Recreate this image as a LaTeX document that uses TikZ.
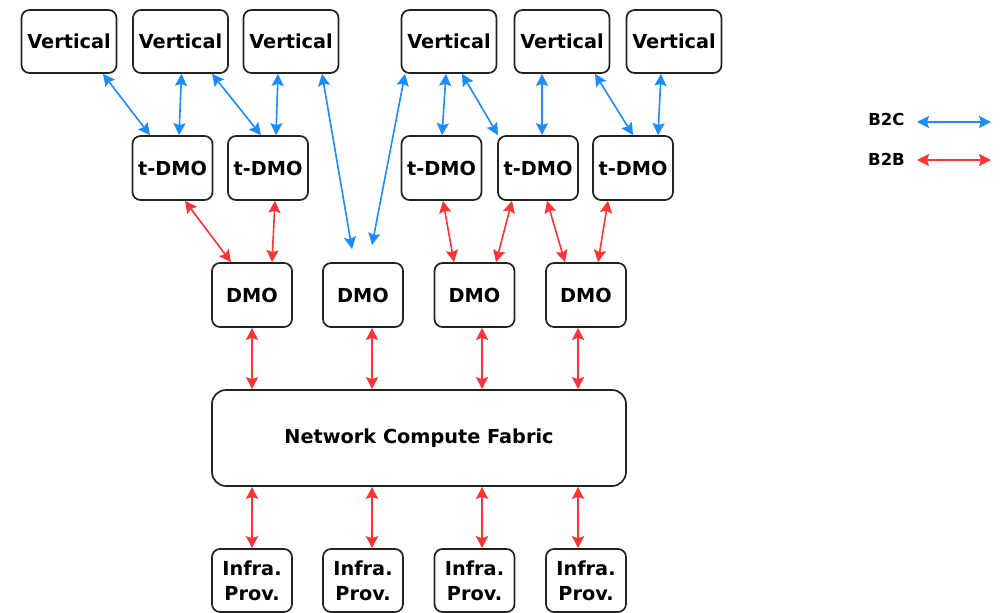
\documentclass[tikz,border=0pt]{standalone}
\usepackage{fontspec}
\setmainfont{DejaVu Sans}
\usetikzlibrary{arrows.meta}
\definecolor{bluearr}{HTML}{1A8CFF}
\definecolor{redarr}{HTML}{FF3333}
\definecolor{boxline}{HTML}{222222}
\begin{document}
\begin{tikzpicture}[x=1pt,y=-1pt,
  box/.style={draw=boxline,line width=1.7pt,rounded corners=8pt,fill=white,
    inner sep=0pt,align=center,font=\bfseries\fontsize{19.3}{25}\selectfont},
  vbox/.style={box,minimum width=95pt,minimum height=63pt},
  sbox/.style={box,minimum width=80pt,minimum height=64pt},
  htip/.tip={Stealth[length=12pt,width=12pt,inset=2pt]},
  arr/.style={line width=1.6pt,htip-htip},
  b2c/.style={arr,draw=bluearr,fill=bluearr},
  b2b/.style={arr,draw=redarr,fill=redarr},
  leg/.style={font=\bfseries\fontsize{16.5}{19}\selectfont,inner sep=0pt}]
\useasboundingbox (0,0) rectangle (1007,613);

% Verticals
\node[vbox] (V1) at (69,41.5) {Vertical};
\node[vbox] (V2) at (180.5,41.5) {Vertical};
\node[vbox] (V3) at (291,41.5) {Vertical};
\node[vbox] (V4) at (449,41.5) {Vertical};
\node[vbox] (V5) at (562,41.5) {Vertical};
\node[vbox] (V6) at (674,41.5) {Vertical};

% t-DMOs
\node[sbox] (T1) at (172.5,168) {t-DMO};
\node[sbox] (T2) at (268,168) {t-DMO};
\node[sbox] (T3) at (441.5,168) {t-DMO};
\node[sbox] (T4) at (538,168) {t-DMO};
\node[sbox] (T5) at (633,168) {t-DMO};

% DMOs
\node[sbox] (D1) at (252,295) {DMO};
\node[sbox] (D2) at (363,295) {DMO};
\node[sbox] (D3) at (474.5,295) {DMO};
\node[sbox] (D4) at (586,295) {DMO};

% Fabric
\node[box,minimum width=414pt,minimum height=96pt,rounded corners=14pt] (F) at (419,438) {Network Compute Fabric};

% Infra providers
\node[sbox,minimum height=63pt] (I1) at (252,580.5) {Infra.\\Prov.};
\node[sbox,minimum height=63pt] (I2) at (363,580.5) {Infra.\\Prov.};
\node[sbox,minimum height=63pt] (I3) at (474.5,580.5) {Infra.\\Prov.};
\node[sbox,minimum height=63pt] (I4) at (586,580.5) {Infra.\\Prov.};

% free ends
\coordinate (e1) at (352,249);
\coordinate (e2) at (372,245);

% B2C arrows
\draw[b2c] ([xshift=34pt]V1.south) -- ([xshift=-22.5pt]T1.north);
\draw[b2c] ([xshift=1pt]V2.south) -- ([xshift=6.5pt]T1.north);
\draw[b2c] ([xshift=31.5pt]V2.south) -- ([xshift=-7pt]T2.north);
\draw[b2c] ([xshift=-13pt]V3.south) -- ([xshift=8pt]T2.north);
\draw[b2c] ([xshift=31pt]V3.south) -- (e1);
\draw[b2c] ([xshift=-44pt]V4.south) -- (e2);
\draw[b2c] ([xshift=-3pt]V4.south) -- ([xshift=0.5pt]T3.north);
\draw[b2c] ([xshift=13pt]V4.south) -- ([xshift=-40pt]T4.north);
\draw[b2c] ([xshift=-20pt]V5.south) -- ([xshift=4pt]T4.north);
\draw[b2c] ([xshift=33pt]V5.south) -- ([xshift=0pt]T5.north);
\draw[b2c] ([xshift=-13pt]V6.south) -- ([xshift=25pt]T5.north);

% B2B arrows t-DMO -> DMO
\draw[b2b] ([xshift=12.5pt]T1.south) -- ([xshift=-21pt]D1.north);
\draw[b2b] ([xshift=7pt]T2.south) -- ([xshift=20pt]D1.north);
\draw[b2b] ([xshift=1.5pt]T3.south) -- ([xshift=-20.5pt]D3.north);
\draw[b2b] ([xshift=-26pt]T4.south) -- ([xshift=21.5pt]D3.north);
\draw[b2b] ([xshift=9pt]T4.south) -- ([xshift=-21pt]D4.north);
\draw[b2b] ([xshift=-25pt]T5.south) -- ([xshift=12pt]D4.north);

% DMO <-> Fabric
\draw[b2b] (D1.south) -- ([xshift=-167pt]F.north);
\draw[b2b] ([xshift=9pt]D2.south) -- ([xshift=-47pt]F.north);
\draw[b2b] ([xshift=7.5pt]D3.south) -- ([xshift=63pt]F.north);
\draw[b2b] ([xshift=-8pt]D4.south) -- ([xshift=159pt]F.north);

% Fabric <-> Infra
\draw[b2b] ([xshift=-167pt]F.south) -- (I1.north);
\draw[b2b] ([xshift=-47pt]F.south) -- ([xshift=9pt]I2.north);
\draw[b2b] ([xshift=63pt]F.south) -- ([xshift=7.5pt]I3.north);
\draw[b2b] ([xshift=159pt]F.south) -- ([xshift=-8pt]I4.north);

% Legend
\node[leg] (L1) at (886.5,119) {B2C};
\node[leg] (L2) at (886.5,159) {B2B};
\coordinate (l1a) at (917,122);
\coordinate (l1b) at (991,122);
\coordinate (l2a) at (917,160);
\coordinate (l2b) at (991,160);
\draw[b2c] (l1a) -- (l1b);
\draw[b2b] (l2a) -- (l2b);
\end{tikzpicture}
\end{document}
